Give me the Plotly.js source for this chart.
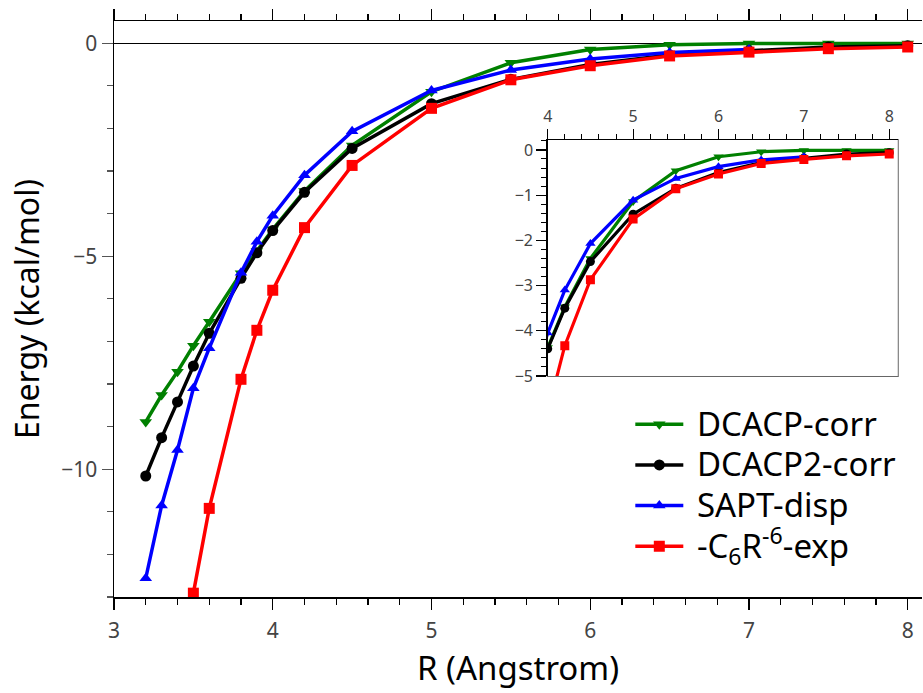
<!DOCTYPE html>
<html>
<head>
<meta charset="utf-8">
<script src="https://cdn.plot.ly/plotly-3.0.1.min.js"></script>
<style>html,body{margin:0;padding:0;background:#fff;}#chart{width:923px;height:693px;}</style>
</head>
<body>
<div id="chart"></div>
<script>
// Distances (Angstrom)
const R_full = [3.2, 3.3, 3.4, 3.5, 3.6, 3.8, 3.9, 4.0, 4.2, 4.5, 5.0, 5.5, 6.0, 6.5, 7.0, 7.5, 8.0];
const R_sapt = [3.2, 3.3, 3.4, 3.5, 3.6, 3.8, 3.9, 4.0, 4.2, 4.5, 5.0, 5.5, 6.0, 6.5, 7.0];
const R_c6   = [3.5, 3.6, 3.8, 3.9, 4.0, 4.2, 4.5, 5.0, 5.5, 6.0, 6.5, 7.0, 7.5, 8.0];

// Energies (kcal/mol)
const dcacpCorr  = [-8.89, -8.26, -7.71, -7.10, -6.54, -5.40, -4.88, -4.37, -3.47, -2.40, -1.14, -0.46, -0.15, -0.04, -0.01, -0.01, -0.01];
const dcacp2Corr = [-10.16, -9.26, -8.42, -7.58, -6.81, -5.52, -4.92, -4.40, -3.50, -2.47, -1.42, -0.85, -0.50, -0.28, -0.18, -0.09, -0.06];
const saptDisp   = [-12.56, -10.85, -9.55, -8.10, -7.16, -5.39, -4.66, -4.05, -3.10, -2.07, -1.11, -0.63, -0.37, -0.22, -0.15];
const c6Exp      = [-12.91, -10.92, -7.89, -6.74, -5.80, -4.33, -2.87, -1.53, -0.86, -0.53, -0.30, -0.21, -0.13, -0.09];

const seriesNames = ['DCACP-corr', 'DCACP2-corr', 'SAPT-disp', '-C<sub>6</sub>R<sup>-6</sup>-exp'];

const FONT = '"Noto Sans", "Open Sans", sans-serif';
const series = [
  {x: R_full, y: dcacpCorr,  name: seriesNames[0], color: '#008000', symbol: 'triangle-down'},
  {x: R_full, y: dcacp2Corr, name: seriesNames[1], color: '#000000', symbol: 'circle'},
  {x: R_sapt, y: saptDisp,   name: seriesNames[2], color: '#0000ff', symbol: 'triangle-up'},
  {x: R_c6,   y: c6Exp,      name: seriesNames[3], color: '#ff0000', symbol: 'square'}
];

const traces = [];
series.forEach(s => {
  traces.push({
    x: s.x, y: s.y, type: 'scatter', mode: 'lines+markers',
    name: '<span style="font-size:33px"> ' + s.name + '</span>',
    line: {color: s.color, width: 3.5},
    marker: {color: s.color, symbol: s.symbol, size: 11},
    xaxis: 'x', yaxis: 'y'
  });
});
series.forEach(s => {
  traces.push({
    x: s.x, y: s.y, name: s.name, type: 'scatter', mode: 'lines+markers', showlegend: false,
    line: {color: s.color, width: 3.2},
    marker: {color: s.color, symbol: s.symbol, size: 9},
    xaxis: 'x2', yaxis: 'y3'
  });
});

const layout = {
  width: 923, height: 693,
  margin: {l: 114, r: 1, t: 21, b: 96},
  paper_bgcolor: '#fff', plot_bgcolor: '#fff',
  font: {family: FONT, color: '#000'},
  showlegend: true,
  legend: {
    x: 0.639, y: 0.344, xanchor: 'left', yanchor: 'top',
    font: {family: FONT, size: 29, color: '#000'},
    bgcolor: 'rgba(0,0,0,0)', itemwidth: 48, tracegroupgap: 0
  },
  xaxis: {
    range: [3, 8.09], dtick: 1, tick0: 3,
    showgrid: false, zeroline: false,
    showline: true, linecolor: '#000', linewidth: 1.5, mirror: 'ticks',
    ticks: 'outside', ticklen: 11, tickwidth: 1.3, tickcolor: '#000',
    minor: {dtick: 0.2, ticks: 'outside', ticklen: 6, tickwidth: 1.2, tickcolor: '#000', showgrid: false},
    tickfont: {family: FONT, size: 21, color: '#444'}, ticklabelstandoff: 3,
    title: {text: 'R (Angstrom)', font: {family: FONT, size: 33, color: '#000'}, standoff: 14}
  },
  yaxis: {
    range: [-13, 0.52], dtick: 5, tick0: 0,
    showgrid: false, zeroline: true, zerolinecolor: '#000', zerolinewidth: 1.2,
    showline: true, linecolor: '#000', linewidth: 1.5,
    ticks: 'outside', ticklen: 11, tickwidth: 1.3, tickcolor: '#555',
    minor: {dtick: 1, ticks: 'outside', ticklen: 6, tickwidth: 1.2, tickcolor: '#555', showgrid: false},
    tickfont: {family: FONT, size: 21, color: '#444'},
    title: {text: 'Energy (kcal/mol)', font: {family: FONT, size: 32, color: '#000'}, standoff: 12}
  },
  yaxis2: {
    overlaying: 'y', side: 'right', anchor: 'x',
    range: [-13, 0.52], dtick: 1, tick0: 0,
    showgrid: false, zeroline: false, showticklabels: false,
    showline: true, linecolor: '#999', linewidth: 1.5,
    ticks: 'inside', ticklen: 5, tickwidth: 1, tickcolor: '#999'
  },
  xaxis2: {
    domain: [0.5368, 0.9700], anchor: 'y3', side: 'top',
    range: [4, 8.1], dtick: 1, tick0: 4,
    showgrid: false, zeroline: false,
    showline: true, linecolor: '#000', linewidth: 1.5,
    ticks: 'outside', ticklen: 10, tickwidth: 1.2, tickcolor: '#000',
    minor: {dtick: 0.2, ticks: 'outside', ticklen: 5, tickwidth: 1, tickcolor: '#000', showgrid: false},
    tickfont: {family: FONT, size: 16, color: '#444'}
  },
  yaxis3: {
    domain: [0.3837, 0.7934], anchor: 'x2',
    range: [-5, 0.22], dtick: 1, tick0: 0,
    showgrid: false, zeroline: false,
    showline: true, linecolor: '#000', linewidth: 1.5,
    ticks: 'outside', ticklen: 10, tickwidth: 1.2, tickcolor: '#000',
    minor: {dtick: 0.2, ticks: 'outside', ticklen: 5, tickwidth: 1, tickcolor: '#000', showgrid: false},
    tickfont: {family: FONT, size: 16, color: '#444'}
  },
  shapes: [
    {type: 'rect', xref: 'x2 domain', yref: 'y3 domain', x0: 0, x1: 1, y0: 0, y1: 1,
     line: {color: '#666', width: 2}, fillcolor: 'rgba(0,0,0,0)', layer: 'below'}
  ]
};

Plotly.newPlot('chart', traces, layout, {displayModeBar: false, staticPlot: true});
</script>
</body>
</html>
